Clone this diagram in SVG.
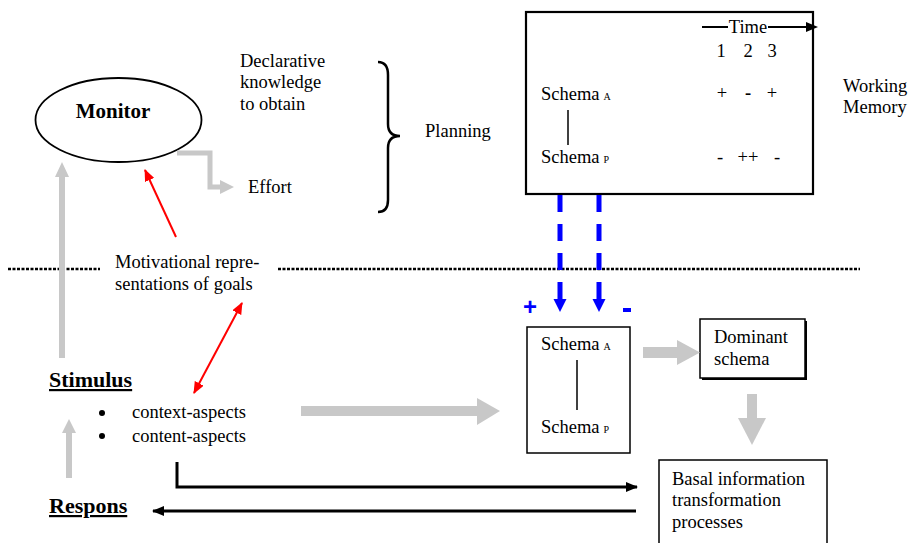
<svg xmlns="http://www.w3.org/2000/svg" width="909" height="543" viewBox="0 0 909 543">
<style>
text{font-family:"Liberation Serif","Times New Roman",serif;font-size:18.5px;fill:#000}
.b{font-weight:bold;font-size:22px}
.sub{font-size:10px}
.box{fill:#fff;stroke:#000;stroke-width:1.5}
.g{stroke:#c8c8c8;fill:none}
.gf{fill:#c8c8c8}
.red{stroke:#f00;stroke-width:2;fill:none}
.blue{stroke:#00f;stroke-width:5;fill:none;stroke-dasharray:17 12}
.blk{stroke:#000;stroke-width:3;fill:none}
.dot{stroke:#000;stroke-width:2.5;stroke-dasharray:3 1.5}
.pm{font-family:"Liberation Sans",Arial,sans-serif;font-weight:bold;font-size:24px;fill:#00f}
</style>
<defs>
<marker id="rh" markerWidth="12" markerHeight="10" refX="11" refY="5" orient="auto" markerUnits="userSpaceOnUse"><path d="M0,0 L12,5 L0,10 Z" fill="#f00"/></marker>
<marker id="rhs" markerWidth="12" markerHeight="10" refX="1" refY="5" orient="auto" markerUnits="userSpaceOnUse"><path d="M12,0 L0,5 L12,10 Z" fill="#f00"/></marker>
<marker id="bh" markerWidth="12" markerHeight="10" refX="11" refY="5" orient="auto" markerUnits="userSpaceOnUse"><path d="M0,0 L12,5 L0,10 Z" fill="#000"/></marker>
</defs>
<rect width="909" height="543" fill="#fff"/>

<g id="separator">
<line class="dot" x1="8" y1="269" x2="100" y2="269"/>
<line class="dot" x1="278" y1="269" x2="860" y2="269"/>
</g>

<g id="monitor">
<ellipse cx="118.5" cy="120" rx="83" ry="42" fill="#fff" stroke="#000" stroke-width="1.8"/>
<text x="113" y="118" class="b" style="font-size:21px" text-anchor="middle">Monitor</text>
</g>

<g id="declarative">
<text x="240" y="67">Declarative</text>
<text x="240" y="88">knowledge</text>
<text x="240" y="110">to obtain</text>
</g>

<g id="planning">
<path d="M378,62 Q388,62 388,75 L388,124 Q388,136 400,136 Q388,136 388,148 L388,200 Q388,212 378,212" fill="none" stroke="#000" stroke-width="2.5"/>
<text x="425" y="137">Planning</text>
</g>

<g id="effort"><text x="248" y="193">Effort</text></g>

<g id="motivational">
<text x="115" y="268">Motivational repre-</text>
<text x="115" y="290">sentations of goals</text>
</g>

<g id="working-memory">
<rect x="526" y="12" width="287" height="182" fill="#fff" stroke="#000" stroke-width="2.2"/>
<line x1="702" y1="27" x2="728" y2="27" stroke="#000" stroke-width="2"/>
<line x1="768" y1="27" x2="807" y2="27" stroke="#000" stroke-width="2"/>
<path d="M806,22 L818,27 L806,32 Z" fill="#000"/>
<text x="748" y="33" text-anchor="middle">Time</text>
<text x="721" y="57" text-anchor="middle">1</text>
<text x="748" y="57" text-anchor="middle">2</text>
<text x="772" y="57" text-anchor="middle">3</text>
<text x="541" y="100">Schema<tspan class="sub" dx="4">A</tspan></text>
<line x1="568" y1="110" x2="568" y2="145" stroke="#000" stroke-width="1.5"/>
<text x="541" y="163">Schema<tspan class="sub" dx="4">P</tspan></text>
<text x="722" y="99" text-anchor="middle">+</text>
<text x="748" y="99" text-anchor="middle" font-weight="bold">-</text>
<text x="772" y="99" text-anchor="middle">+</text>
<text x="720" y="163" text-anchor="middle">-</text>
<text x="748" y="163" text-anchor="middle">++</text>
<text x="777" y="163" text-anchor="middle">-</text>
<text x="843" y="92">Working</text>
<text x="843" y="113">Memory</text>
</g>

<g id="schema-box">
<rect class="box" x="527" y="327" width="103" height="126"/>
<text x="541" y="350">Schema<tspan class="sub" dx="4">A</tspan></text>
<line x1="577" y1="360" x2="577" y2="410" stroke="#000" stroke-width="1.5"/>
<text x="541" y="433">Schema<tspan class="sub" dx="4">P</tspan></text>
</g>

<g id="dominant">
<rect x="702" y="321" width="105" height="59" fill="#000"/>
<rect class="box" x="700" y="319" width="105" height="59"/>
<text x="714" y="343">Dominant</text>
<text x="714" y="365">schema</text>
</g>

<g id="basal">
<rect class="box" x="659" y="460" width="168" height="90"/>
<text x="672" y="485">Basal information</text>
<text x="672" y="506">transformation</text>
<text x="672" y="528">processes</text>
</g>

<g id="stimulus">
<text x="49" y="387" class="b" text-decoration="underline">Stimulus</text>
<circle cx="102" cy="413" r="3"/>
<circle cx="102" cy="436" r="3"/>
<text x="132" y="418">context-aspects</text>
<text x="132" y="442">content-aspects</text>
</g>

<g id="respons">
<text x="49" y="513" class="b" text-decoration="underline">Respons</text>
</g>

<g id="connectors">
<line class="g" x1="62" y1="358" x2="62" y2="175" stroke-width="6"/>
<path class="gf" d="M55,177 L62,162 L69,177 Z"/>
<line class="g" x1="69" y1="478" x2="69" y2="431" stroke-width="6"/>
<path class="gf" d="M62,433 L69,419 L76,433 Z"/>
<polyline class="g" points="177,153 210,153 210,187 222,187" stroke-width="5"/>
<path class="gf" d="M220,180 L234,187 L220,194 Z"/>
<rect class="gf" x="301" y="406" width="177" height="10"/>
<path class="gf" d="M477,398 L500,411 L477,425 Z"/>
<rect class="gf" x="643" y="347" width="35" height="11"/>
<path class="gf" d="M677,340 L700,352.5 L677,365 Z"/>
<rect class="gf" x="747" y="394" width="10" height="25"/>
<path class="gf" d="M738,418 L766,418 L752,445 Z"/>
<line class="red" x1="176" y1="237" x2="145" y2="170" marker-end="url(#rh)"/>
<line class="red" x1="242" y1="303" x2="194" y2="393" marker-start="url(#rhs)" marker-end="url(#rh)"/>
<line class="blue" x1="560" y1="195" x2="560" y2="300"/>
<path d="M553.5,299 L566.5,299 L560,312 Z" fill="#00f"/>
<line class="blue" x1="599" y1="195" x2="599" y2="300"/>
<path d="M592.5,299 L605.5,299 L599,312 Z" fill="#00f"/>
<text class="pm" x="530" y="315" text-anchor="middle">+</text>
<rect x="623" y="308" width="8" height="4" fill="#00f"/>
<path class="blk" d="M177,462 V487 H637" marker-end="url(#bh)"/>
<path class="blk" d="M636,511 H153" marker-end="url(#bh)"/>
</g>
</svg>
